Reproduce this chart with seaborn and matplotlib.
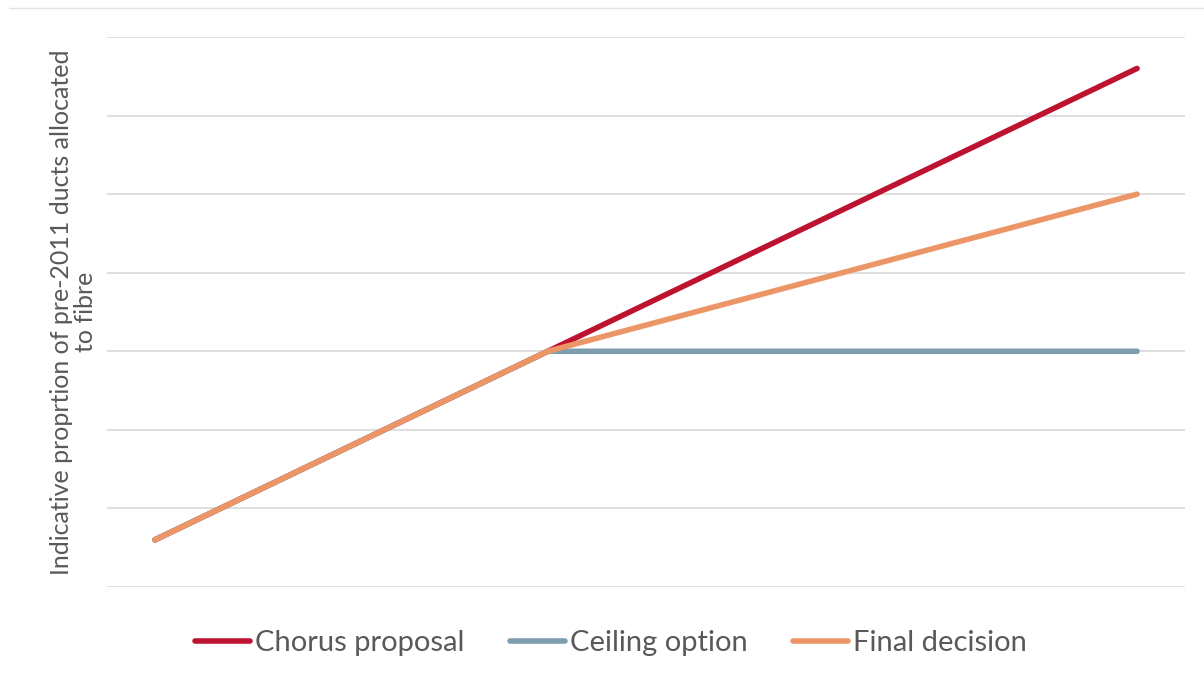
import numpy as np
import pandas as pd
import seaborn as sns
import matplotlib.pyplot as plt
from matplotlib.lines import Line2D

# dados (eixo sem rotulos)
etapas = [0, 2, 5]
chorus = [0.6, 3.0, 6.6]
ceiling = [0.6, 3.0, 3.0]
final = [0.6, 3.0, 5.0]
nomes = ["Chorus proposal", "Ceiling option", "Final decision"]
cores = ["#BE1231", "#7E9DAD", "#EC9566"]

df = pd.DataFrame({"etapa": etapas, nomes[0]: chorus, nomes[1]: ceiling, nomes[2]: final})
df_long = df.melt(id_vars="etapa", var_name="serie", value_name="valor")

sns.set_theme(style="white")
plt.rcParams["font.family"] = ["Lato", "DejaVu Sans"]

fig = plt.figure(figsize=(12.04, 6.77), dpi=100)
ax = fig.add_axes([107 / 1204, 90 / 677, (1185 - 107) / 1204, (587 - 37) / 677])

sns.lineplot(data=df_long, x="etapa", y="valor", hue="serie", hue_order=nomes,
             palette=cores, linewidth=4, ax=ax, legend=False,
             solid_capstyle="round")

ax.set_xlim(-0.244, 5.244)
ax.set_ylim(0, 7)
ax.set_yticks(np.arange(0, 8))
ax.set_xticks([])
ax.set_yticklabels([])
ax.tick_params(left=False, bottom=False)
ax.grid(axis="y", color="#D9D9D9", linewidth=1.2)
ax.set_axisbelow(True)
for s in ax.spines.values():
    s.set_visible(False)
ax.set_xlabel("")
ax.set_ylabel("Indicative proprtion of pre-2011 ducts allocated\nto fibre",
              fontsize=18, color="#595959", linespacing=1.05)
ax.yaxis.set_label_coords(-0.009, 0.5)

handles = [Line2D([], [], color=c, linewidth=4, solid_capstyle="round") for c in cores]
fig.legend(handles, nomes, loc="center", bbox_to_anchor=(611 / 1204, 1 - 643 / 677),
           ncol=3, frameon=False, fontsize=21, handlelength=1.9, handletextpad=0.17,
           columnspacing=1.55, labelcolor="#595959")

# borda superior
fig.add_artist(Line2D([9 / 1204, 1], [1 - 8 / 677, 1 - 8 / 677], color="#E3E3E3", linewidth=1))

fig.savefig("out.png", dpi=100)
